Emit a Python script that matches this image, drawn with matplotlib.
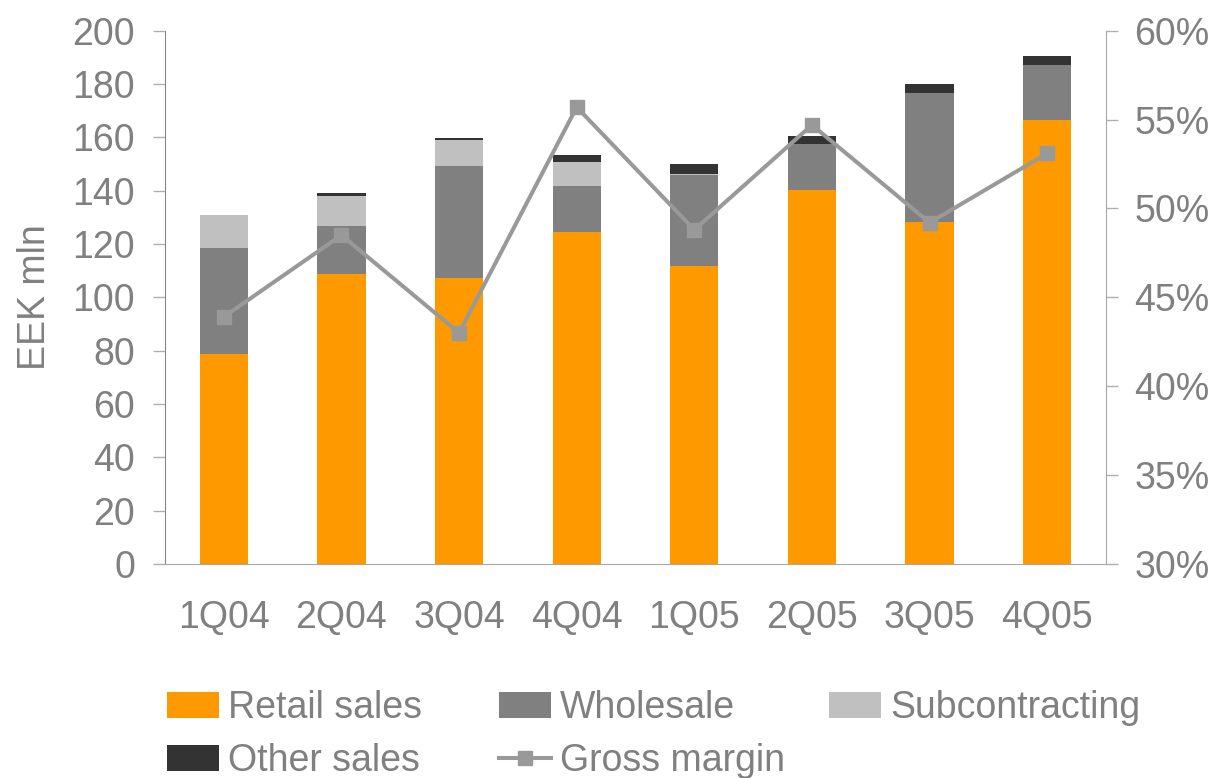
import numpy as np
import matplotlib
matplotlib.use("Agg")
import matplotlib.pyplot as plt
from matplotlib.ticker import FuncFormatter

plt.rcParams['font.family'] = ['Liberation Sans', 'DejaVu Sans']

# --- data (EEK mln, gross margin in %) ---
quarters = ['1Q04', '2Q04', '3Q04', '4Q04', '1Q05', '2Q05', '3Q05', '4Q05']
retail = [78.8, 108.9, 107.3, 124.6, 111.8, 140.2, 128.3, 166.4]
wholesale = [39.8, 17.9, 42.0, 17.3, 34.1, 17.2, 48.4, 20.6]
subcontracting = [12.3, 11.2, 9.7, 9.0, 0.4, 0.0, 0.0, 0.0]
other = [0.0, 1.2, 0.8, 2.6, 3.7, 3.0, 3.4, 3.4]
gross_margin = [43.9, 48.5, 43.0, 55.7, 48.8, 54.7, 49.2, 53.1]

txt = '#808080'
fs = 27

fig = plt.figure(figsize=(12.19, 7.78), dpi=100)
ax = fig.add_axes([165 / 1219, 1 - 564 / 778, (1106 - 165) / 1219, (564 - 30.7) / 778])

x = np.arange(len(quarters))
w = 0.41
b1 = np.array(retail)
b2 = b1 + np.array(wholesale)
b3 = b2 + np.array(subcontracting)
h_r = ax.bar(x, retail, w, color='#FF9900', label='Retail sales')
h_w = ax.bar(x, wholesale, w, bottom=b1, color='#808080', label='Wholesale')
h_s = ax.bar(x, subcontracting, w, bottom=b2, color='#C0C0C0', label='Subcontracting')
h_o = ax.bar(x, other, w, bottom=b3, color='#333333', label='Other sales')

ax.set_xlim(-0.5, len(quarters) - 0.5)
ax.set_ylim(0, 200)
ax.set_yticks(np.arange(0, 201, 20))
ax.set_xticks(x)
ax.set_xticklabels(quarters)
ax.set_ylabel('EEK mln', fontsize=fs, color=txt, labelpad=14)

ax2 = ax.twinx()
h_g, = ax2.plot(x, gross_margin, color='#999999', lw=2.9, marker='s', ms=9.5,
                label='Gross margin')
ax2.set_ylim(30, 60)
ax2.set_yticks(np.arange(30, 61, 5))
ax2.yaxis.set_major_formatter(FuncFormatter(lambda v, p: f'{v:.0f}%'))

for a in (ax, ax2):
    for s in a.spines.values():
        s.set_visible(False)
ax.spines['left'].set_visible(True)
ax.spines['left'].set_color('#888888')
ax.spines['bottom'].set_visible(True)
ax.spines['bottom'].set_color('#a6a6a6')
ax2.spines['right'].set_visible(True)
ax2.spines['right'].set_color('#a6a6a6')

ax.tick_params(axis='y', length=8.6, width=1, color='#b0b0b0', labelsize=fs,
               labelcolor=txt, pad=13)
ax.tick_params(axis='x', length=0, labelsize=fs, labelcolor=txt, pad=26)
ax2.tick_params(axis='y', length=8.6, width=1, color='#b0b0b0', labelsize=fs,
                labelcolor=txt, pad=12)

# legend: one column legend per Excel column so the columns sit at fixed x
columns = [([h_r, h_o], 167), ([h_w, h_g], 499), ([h_s], 829)]
for hs, x0 in columns:
    fig.legend(hs, [h.get_label() for h in hs], loc='upper left',
               bbox_to_anchor=(x0 / 1219, 1 - 690 / 778),
               frameon=False, fontsize=fs, labelcolor=txt, handlelength=1.39,
               handleheight=0.69, handletextpad=0.24, labelspacing=0.46,
               borderpad=0, borderaxespad=0)

fig.savefig('out.png', dpi=100)
